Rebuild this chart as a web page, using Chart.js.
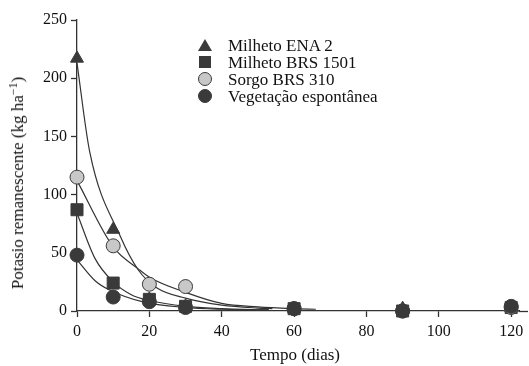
<!DOCTYPE html>
<html>
<head>
<meta charset="utf-8">
<script src="https://cdn.jsdelivr.net/npm/chart.js@4"></script>
<style>
  body { margin: 0; background: #fff; }
  #wrap { position: relative; width: 529px; height: 366px; font-family: "Liberation Serif", "DejaVu Serif", serif; color: #111; }
  .legend { position: absolute; left: 197px; top: 37px; font-size: 17px; }
  .row { position: relative; height: 17px; line-height: 17px; padding-left: 31px; white-space: nowrap; }
  .mk { position: absolute; left: 1px; top: 2px; }
  .tri { width: 0; height: 0; border-left: 7px solid transparent; border-right: 7px solid transparent; border-bottom: 12px solid #3a3a3a; left: 1px; }
  .sq { width: 12px; height: 12px; background: #3a3a3a; left: 2px; }
  .ci { width: 12px; height: 12px; border-radius: 50%; border: 1px solid #3a3a3a; left: 1px; top: 1px; }
  .ytitle { position: absolute; left: 18px; top: 183px; font-size: 17px; white-space: nowrap; transform: translate(-50%, -50%) rotate(-90deg); }
  .ytitle sup { font-size: 12px; vertical-align: 6px; line-height: 0; }
  .xtitle { position: absolute; left: 295px; top: 355px; font-size: 17px; white-space: nowrap; transform: translate(-50%, -50%); }
</style>
</head>
<body>
<div id="wrap">
  <canvas id="chart" width="529" height="366"></canvas>
  <div class="ytitle">Potasio remanescente (kg ha<sup>−1</sup>)</div>
  <div class="xtitle">Tempo (dias)</div>
  <div class="legend">
    <div class="row"><span class="mk tri"></span>Milheto ENA 2</div>
    <div class="row"><span class="mk sq"></span>Milheto BRS 1501</div>
    <div class="row"><span class="mk ci" style="background:#c8c8c8"></span>Sorgo BRS 310</div>
    <div class="row"><span class="mk ci" style="background:#3a3a3a"></span>Vegetação espontânea</div>
  </div>
</div>
<script>
// Observed values
const days = [0, 10, 20, 30, 60, 90, 120];
const enaValues = [217, 70, 10, 4, 2, 2, 3];
const brsValues = [87, 24, 10, 4, 2, 0, 3];
const sorgoValues = [115, 56, 23, 21, 2, 0, 3];
const vegValues = [48, 12, 8, 3, 2, 0, 4];

// Fitted curves
const enaCurveX = [0, 3.5, 12, 17, 22, 30, 40, 50, 54];
const enaCurveY = [213, 137, 64, 35, 20, 11, 5, 2.5, 2];
const brsCurveX = [0, 5, 10, 15, 20, 30, 40, 50, 53];
const brsCurveY = [84, 45, 25, 14, 9, 4, 2, 1, 1];
const sorgoCurveX = [0, 10, 17, 20, 30, 40, 50, 60, 66];
const sorgoCurveY = [112, 55, 36, 29, 16, 6.5, 3.5, 2, 1.5];
const vegCurveX = [0, 5, 9, 18, 30, 40, 50, 53];
const vegCurveY = [44, 26, 18, 8, 3, 1.5, 1, 1];

const xTicks = [0, 20, 40, 60, 80, 100, 120];
const yTicks = [0, 50, 100, 150, 200, 250];

const DARK = '#3a3a3a';
const LIGHT = '#c8c8c8';
const FONT = '"Liberation Serif", "DejaVu Serif", serif';

function pts(xs, ys) {
  return xs.map((x, i) => ({ x: x, y: ys[i] }));
}

function curve(xs, ys) {
  return {
    type: 'line',
    data: pts(xs, ys),
    borderColor: '#333',
    borderWidth: 1.2,
    pointRadius: 0,
    fill: false,
    cubicInterpolationMode: 'monotone',
    clip: false,
    order: 10
  };
}

function marks(ys, style, radius, bg, border, order) {
  return {
    type: 'scatter',
    data: pts(days, ys),
    pointStyle: style,
    pointRadius: radius,
    pointHoverRadius: radius,
    backgroundColor: bg,
    borderColor: border,
    borderWidth: 1,
    clip: false,
    order: order
  };
}

// the x axis line runs on past the last tick to the edge
const axisTail = {
  id: 'axisTail',
  beforeDatasetsDraw(chart) {
    const c = chart.ctx;
    const a = chart.chartArea;
    c.save();
    c.strokeStyle = '#333';
    c.lineWidth = 1.3;
    c.beginPath();
    c.moveTo(a.right - 1, a.bottom + 0.5);
    c.lineTo(chart.width - 1, a.bottom + 0.5);
    c.stroke();
    c.restore();
  }
};

const ctx = document.getElementById('chart').getContext('2d');

new Chart(ctx, {
  data: {
    datasets: [
      curve(enaCurveX, enaCurveY),
      curve(brsCurveX, brsCurveY),
      curve(sorgoCurveX, sorgoCurveY),
      curve(vegCurveX, vegCurveY),
      marks(enaValues, 'triangle', 7.5, DARK, DARK, 4),
      marks(brsValues, 'rect', 8.5, DARK, DARK, 3),
      marks(sorgoValues, 'circle', 7, LIGHT, DARK, 2),
      marks(vegValues, 'circle', 7, DARK, DARK, 1)
    ]
  },
  options: {
    responsive: false,
    animation: false,
    layout: { padding: { top: 20, right: 1, left: 0, bottom: 0 } },
    plugins: {
      legend: { display: false },
      tooltip: { enabled: false }
    },
    scales: {
      x: {
        type: 'linear',
        min: 0,
        max: 122.3,
        afterBuildTicks: function (scale) {
          scale.ticks = xTicks.map(v => ({ value: v }));
        },
        afterFit: function (scale) {
          scale.height = 55;
        },
        border: { display: true, color: '#333', width: 1.3 },
        grid: { drawOnChartArea: false, drawTicks: true, tickLength: 6, color: '#333', tickWidth: 1.3 },
        ticks: { color: '#111', font: { family: FONT, size: 16 }, padding: 5 }
      },
      y: {
        type: 'linear',
        min: 0,
        max: 250,
        afterBuildTicks: function (scale) {
          scale.ticks = yTicks.map(v => ({ value: v }));
        },
        afterFit: function (scale) {
          scale.width = 77;
        },
        border: { display: true, color: '#333', width: 1.3 },
        grid: { drawOnChartArea: false, drawTicks: true, tickLength: 6, color: '#333', tickWidth: 1.3 },
        ticks: { color: '#111', font: { family: FONT, size: 16 }, padding: 4 }
      }
    }
  },
  plugins: [axisTail]
});
</script>
</body>
</html>
